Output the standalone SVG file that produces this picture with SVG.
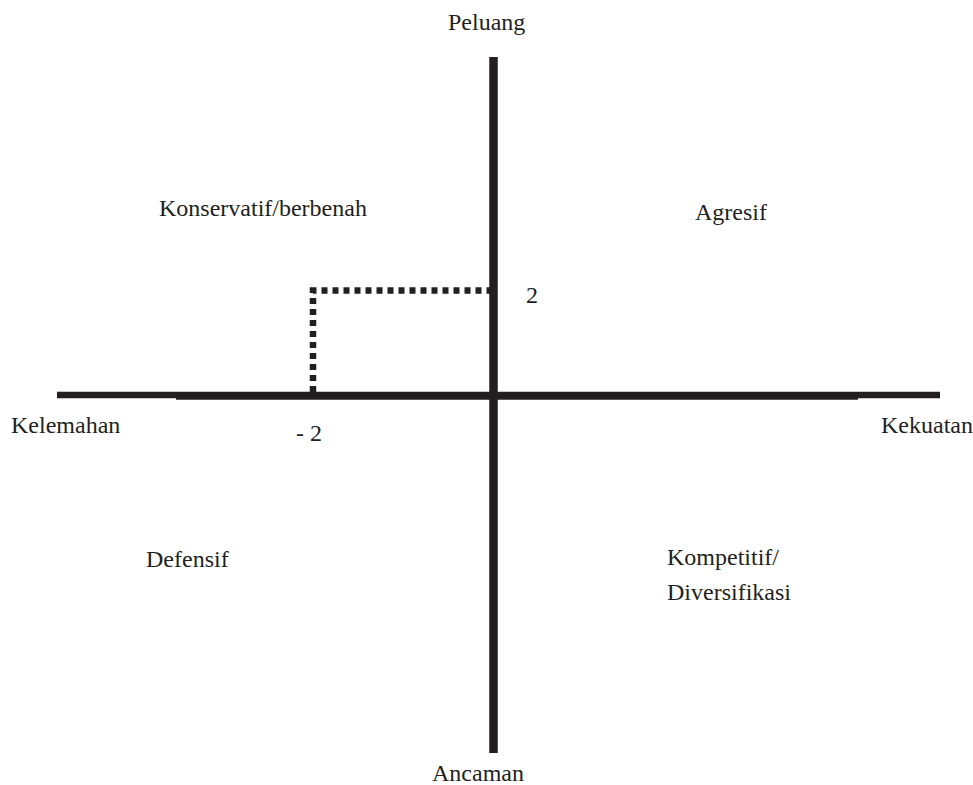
<svg xmlns="http://www.w3.org/2000/svg" width="973" height="785" viewBox="0 0 973 785">
<style>
.ax{stroke:#231f20;fill:none}
</style>
<rect width="973" height="785" fill="#fff"/>
<g id="connectors">
<line class="ax" x1="57" y1="395" x2="940" y2="395" stroke-width="6.5"/>
<line class="ax" x1="176" y1="396.5" x2="858" y2="396.5" stroke-width="6.5"/>
<line class="ax" x1="493.5" y1="57" x2="493.5" y2="753" stroke-width="8.5"/>
<polyline class="ax" points="313,392 313,290.5 490,290.5" stroke-width="6.5" stroke-dasharray="6,5"/>
</g>
<g font-family="Liberation Serif, Times New Roman, DejaVu Serif, serif" font-size="24" fill="#231f20">
<g id="label-peluang"><text x="448" y="30">Peluang</text></g>
<g id="label-ancaman"><text x="432" y="781">Ancaman</text></g>
<g id="label-kelemahan"><text x="11" y="433">Kelemahan</text></g>
<g id="label-kekuatan"><text x="881" y="433">Kekuatan</text></g>
<g id="label-minus2"><text x="296" y="441">- 2</text></g>
<g id="label-2"><text x="526" y="303">2</text></g>
<g id="q-konservatif"><text x="159" y="216">Konservatif/berbenah</text></g>
<g id="q-agresif"><text x="695" y="220">Agresif</text></g>
<g id="q-defensif"><text x="146" y="567">Defensif</text></g>
<g id="q-kompetitif"><text x="667" y="565">Kompetitif/</text><text x="667" y="600">Diversifikasi</text></g>
</g>
</svg>
